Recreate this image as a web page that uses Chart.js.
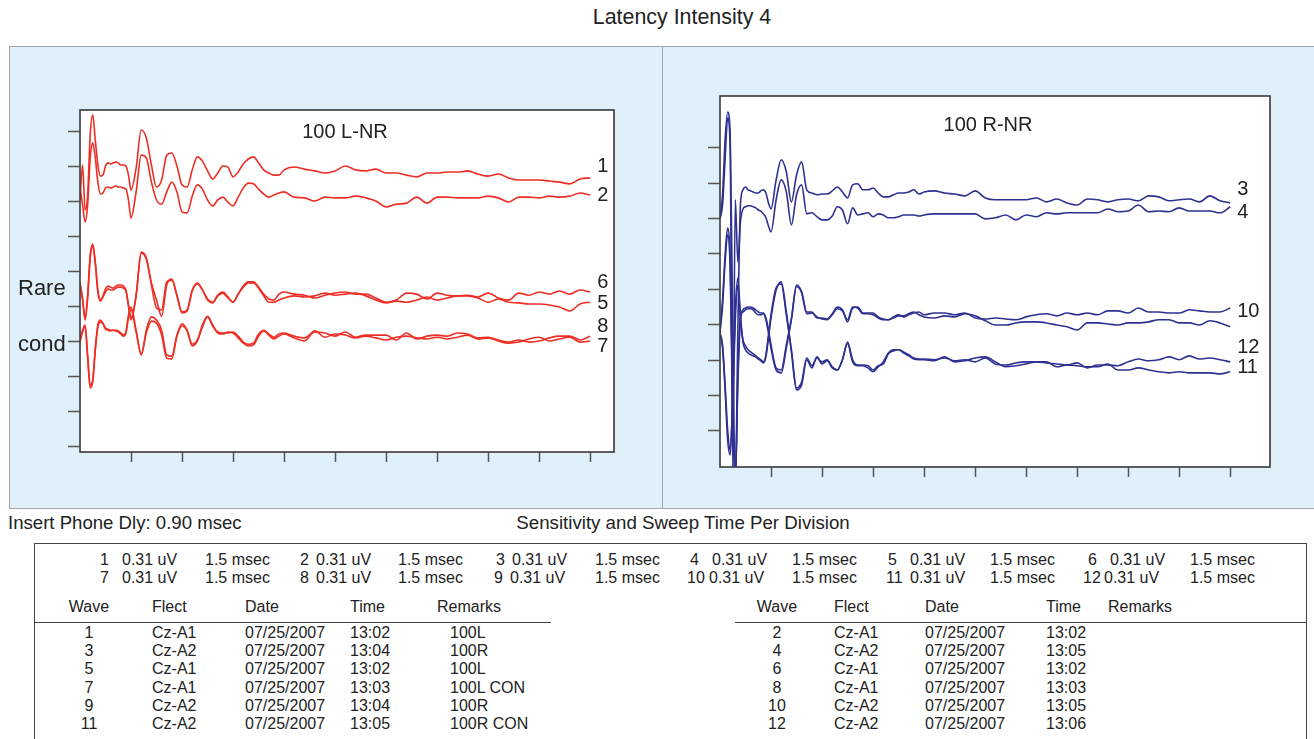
<!DOCTYPE html>
<html>
<head>
<meta charset="utf-8">
<title>Latency Intensity 4</title>
<script src="https://cdn.jsdelivr.net/npm/chart.js@4.4.0/dist/chart.umd.min.js"></script>
<style>
    body { margin: 0; width: 1314px; height: 739px; overflow: hidden; background: #fff;
           position: relative; font-family: "Liberation Sans", Arial, sans-serif; color: #222; }
    .txt { position: absolute; white-space: nowrap; }
    #panel { position: absolute; left: 9px; top: 46px; width: 1310px; height: 463px;
             background: #dff0fa; border: 1px solid #a6a6a6; box-sizing: border-box; }
    #divider { position: absolute; left: 662px; top: 46px; width: 1px; height: 463px; background: #a6a6a6; }
    canvas { position: absolute; }
    #tableBox { position: absolute; left: 34px; top: 543px; width: 1273px; height: 220px;
                border: 1px solid #444; box-sizing: border-box; }
    .rule { position: absolute; height: 1px; background: #444; }
</style>
</head>
<body>
<div id="panel"></div>
<div id="divider"></div>
<canvas id="leftChart" width="662" height="462" style="left:0;top:46px"></canvas>
<canvas id="rightChart" width="651" height="462" style="left:663px;top:46px"></canvas>
<div id="tableBox"></div>
<div class="rule" style="left:34px;top:622px;width:517px"></div>
<div class="rule" style="left:735px;top:622px;width:572px"></div>

<script>
(function () {
    'use strict';

    // sweep time (msec), 1.5 msec per division
    var sweepMs = [0, 0.075, 0.15, 0.225, 0.3, 0.375, 0.45, 0.525, 0.6, 0.675, 0.75, 0.825, 0.9, 0.975, 1.05, 1.125, 1.2, 1.275, 1.35, 1.425, 1.5,
        1.65, 1.8, 1.95, 2.1, 2.25, 2.4, 2.55, 2.7, 2.85, 3.0, 3.15, 3.3, 3.45, 3.6, 3.75, 3.9, 4.05, 4.2, 4.35, 4.5, 4.65, 4.8, 4.95, 5.1, 5.25, 5.4, 5.55, 5.7, 5.85, 6.0,
        6.3, 6.6, 6.9, 7.2, 7.5, 7.8, 8.1, 8.4, 8.7, 9.0, 9.3, 9.6, 9.9, 10.2, 10.5, 10.8, 11.1, 11.4, 11.7, 12.0, 12.3, 12.6, 12.9, 13.2, 13.5, 13.8, 14.1, 14.4, 14.7, 15.0];

    // traces, in divisions (0.31 uV per division)
    var wave1 = [7.03, 8.03, 6.74, 7.17, 8.89, 9.46, 8.74, 8.03, 7.71, 7.74, 8.0, 8.09, 8.06, 8.09, 8.11, 8.09, 8.03, 8.03, 8.0, 7.74, 7.31,
        7.94, 9.03, 8.8, 8.03, 7.4, 7.6, 8.31, 8.37, 8.0, 7.46, 7.4, 7.89, 8.26, 8.14, 7.86, 7.63, 7.8, 8.0, 7.97, 7.69, 7.83, 8.06, 8.2, 8.26, 8.09, 7.89, 7.8, 7.74, 7.74, 7.89,
        7.97, 7.91, 7.86, 7.8, 7.86, 8.0, 7.89, 7.86, 7.91, 7.8, 7.8, 7.74, 7.69, 7.8, 7.8, 7.83, 7.83, 7.86, 7.77, 7.71, 7.77, 7.66, 7.6, 7.6, 7.6, 7.57, 7.54, 7.49, 7.63, 7.66];
    var wave2 = [7.37, 6.89, 6.4, 6.89, 8.23, 8.66, 8.23, 7.54, 7.2, 7.23, 7.37, 7.4, 7.37, 7.4, 7.43, 7.4, 7.4, 7.37, 7.34, 7.03, 6.51,
        7.26, 8.31, 8.23, 7.54, 7.03, 6.91, 7.26, 7.54, 7.26, 6.69, 6.66, 7.14, 7.46, 7.34, 7.03, 6.86, 7.03, 7.11, 6.97, 6.86, 7.11, 7.37, 7.51, 7.49, 7.34, 7.2, 7.11, 7.17, 7.23, 7.26,
        7.11, 7.09, 7.0, 7.11, 7.09, 7.09, 7.14, 7.09, 7.0, 6.83, 6.91, 6.94, 7.11, 6.94, 7.11, 7.11, 7.09, 7.09, 7.09, 7.14, 7.09, 6.97, 7.11, 7.11, 7.09, 7.14, 7.11, 7.14, 7.23, 7.17];
    var wave6 = [4.66, 4.23, 3.66, 4.31, 5.46, 5.77, 5.26, 4.46, 4.17, 4.29, 4.49, 4.57, 4.54, 4.51, 4.57, 4.6, 4.6, 4.57, 4.46, 4.03, 3.66,
        4.31, 5.54, 5.37, 4.6, 3.94, 3.89, 4.69, 4.74, 4.31, 3.83, 3.89, 4.46, 4.66, 4.46, 4.2, 4.11, 4.31, 4.4, 4.26, 4.11, 4.34, 4.57, 4.69, 4.69, 4.54, 4.34, 4.2, 4.17, 4.34, 4.4,
        4.34, 4.31, 4.23, 4.31, 4.37, 4.4, 4.34, 4.34, 4.23, 4.11, 4.17, 4.37, 4.34, 4.2, 4.37, 4.31, 4.29, 4.31, 4.26, 4.37, 4.23, 4.17, 4.37, 4.31, 4.4, 4.34, 4.43, 4.34, 4.46, 4.4];
    var wave5 = [4.63, 4.17, 3.6, 4.23, 5.37, 5.71, 5.2, 4.4, 4.14, 4.26, 4.4, 4.49, 4.46, 4.46, 4.51, 4.54, 4.54, 4.51, 4.43, 4.0, 3.6,
        4.29, 5.51, 5.34, 4.66, 4.17, 3.71, 4.6, 4.77, 4.29, 3.8, 3.86, 4.43, 4.63, 4.46, 4.17, 4.09, 4.29, 4.37, 4.23, 4.11, 4.34, 4.54, 4.66, 4.66, 4.51, 4.29, 4.11, 4.11, 4.17, 4.23,
        4.29, 4.26, 4.29, 4.37, 4.31, 4.34, 4.37, 4.29, 4.17, 4.09, 4.14, 4.11, 4.17, 4.26, 4.17, 4.23, 4.29, 4.29, 4.23, 4.11, 4.2, 4.11, 4.09, 4.06, 4.06, 4.03, 3.97, 3.86, 4.06, 4.11];
    var wave8 = [3.03, 3.31, 3.46, 2.6, 1.74, 1.89, 2.8, 3.46, 3.6, 3.51, 3.37, 3.34, 3.31, 3.31, 3.31, 3.29, 3.23, 3.17, 3.26, 3.74, 3.97,
        3.31, 2.6, 3.31, 3.69, 3.6, 3.31, 2.6, 2.57, 3.17, 3.49, 3.31, 2.91, 3.03, 3.46, 3.71, 3.46, 3.26, 3.23, 3.23, 3.26, 3.14, 2.97, 2.91, 2.94, 3.2, 3.31, 3.2, 3.11, 3.2, 3.23,
        3.14, 3.09, 3.26, 3.23, 3.14, 3.26, 3.11, 3.17, 3.17, 3.17, 3.03, 3.23, 3.06, 3.14, 3.17, 3.14, 3.23, 3.2, 3.09, 3.11, 3.03, 2.97, 3.03, 2.97, 3.0, 3.09, 3.14, 3.14, 3.03, 3.14];
    var wave7 = [2.97, 3.26, 3.43, 2.51, 1.66, 1.83, 2.74, 3.4, 3.54, 3.49, 3.34, 3.31, 3.29, 3.31, 3.29, 3.26, 3.2, 3.14, 3.23, 3.66, 3.91,
        3.26, 2.63, 3.23, 3.57, 3.51, 3.17, 2.51, 2.49, 3.14, 3.43, 3.29, 2.86, 3.0, 3.4, 3.69, 3.43, 3.23, 3.2, 3.26, 3.23, 3.09, 2.94, 2.86, 2.89, 3.14, 3.29, 3.17, 3.06, 3.14, 3.2,
        3.09, 3.0, 3.29, 3.11, 3.2, 3.17, 3.09, 3.14, 3.09, 3.03, 3.11, 3.14, 3.09, 3.06, 3.11, 3.06, 3.11, 3.17, 3.06, 3.09, 3.0, 2.94, 2.97, 3.06, 3.11, 3.0, 3.06, 3.11, 2.97, 3.0];

    var wave3 = [6.02, 6.67, 8.22, 9.01, 8.36, 2.85, -1.67, 2.85, 6.38, 6.81, 6.89, 6.81, 6.78, 6.75, 6.72, 6.72, 6.78, 6.81, 6.72, 6.44, 6.27,
        7.09, 7.66, 7.32, 6.47, 7.23, 7.6, 6.81, 6.72, 6.67, 6.69, 6.69, 6.78, 6.89, 6.75, 6.58, 6.95, 6.98, 6.81, 6.81, 6.86, 6.72, 6.61, 6.61, 6.67, 6.72, 6.72, 6.75, 6.81, 6.69, 6.75,
        6.78, 6.72, 6.69, 6.64, 6.78, 6.58, 6.53, 6.53, 6.53, 6.53, 6.58, 6.47, 6.55, 6.44, 6.38, 6.55, 6.53, 6.47, 6.53, 6.55, 6.5, 6.64, 6.61, 6.5, 6.53, 6.55, 6.47, 6.64, 6.5, 6.44];
    var wave4 = [5.99, 6.38, 7.66, 8.84, 7.94, -1.1, 6.53, 4.77, 5.9, 6.27, 6.33, 6.36, 6.36, 6.33, 6.3, 6.24, 6.21, 6.13, 6.02, 5.79, 5.62,
        6.53, 7.09, 6.75, 5.82, 6.67, 6.95, 6.13, 6.16, 6.05, 5.96, 5.96, 6.07, 6.33, 6.24, 5.85, 6.3, 6.1, 6.13, 6.16, 6.05, 6.13, 6.1, 6.02, 6.02, 6.05, 6.1, 6.1, 6.1, 6.07, 6.1,
        6.13, 6.13, 6.13, 6.13, 6.13, 5.99, 6.02, 6.1, 5.96, 6.1, 6.05, 6.16, 6.13, 6.16, 6.16, 6.16, 6.16, 6.27, 6.19, 6.21, 6.38, 6.19, 6.21, 6.19, 6.3, 6.21, 6.21, 6.21, 6.16, 6.33];
    var wave10 = [2.85, 3.7, 4.97, 5.73, 4.77, 0.88, -1.38, 1.3, 3.14, 3.42, 3.47, 3.5, 3.5, 3.47, 3.42, 3.36, 3.33, 3.33, 3.19, 2.85, 2.43,
        1.78, 1.72, 2.43, 3.19, 4.12, 3.93, 3.36, 3.36, 3.19, 3.19, 3.16, 3.31, 3.5, 3.42, 3.08, 3.47, 3.5, 3.33, 3.33, 3.33, 3.22, 3.16, 3.14, 3.22, 3.28, 3.22, 3.28, 3.33, 3.36, 3.28,
        3.33, 3.33, 3.28, 3.33, 3.19, 3.16, 3.19, 3.16, 3.14, 3.22, 3.28, 3.31, 3.25, 3.33, 3.28, 3.33, 3.28, 3.39, 3.39, 3.33, 3.47, 3.36, 3.36, 3.33, 3.33, 3.42, 3.39, 3.36, 3.36, 3.47];
    var wave9 = [2.77, 3.53, 4.77, 5.54, 4.55, 0.59, -1.53, 1.58, 3.19, 3.36, 3.42, 3.45, 3.45, 3.42, 3.33, 3.28, 3.28, 3.31, 3.14, 2.77, 2.34,
        1.72, 1.64, 2.34, 3.14, 4.07, 3.9, 3.31, 3.33, 3.22, 3.16, 3.14, 3.28, 3.45, 3.39, 3.14, 3.5, 3.47, 3.31, 3.31, 3.28, 3.19, 3.14, 3.14, 3.19, 3.25, 3.25, 3.31, 3.36, 3.28, 3.22,
        3.19, 3.25, 3.22, 3.31, 3.25, 3.11, 2.99, 2.99, 3.05, 3.08, 3.08, 3.05, 2.99, 2.94, 2.85, 3.05, 3.05, 3.02, 2.99, 3.05, 3.05, 3.08, 3.14, 3.14, 3.05, 3.05, 2.99, 3.11, 3.05, 2.94];
    var wave12 = [2.77, 2.43, 1.3, 0.03, -0.54, 0.88, 3.14, 4.12, 3.14, 2.57, 2.4, 2.29, 2.23, 2.18, 2.12, 2.06, 2.01, 1.95, 2.15, 2.71, 3.28,
        4.04, 4.15, 3.28, 2.29, 1.21, 1.38, 2.06, 1.84, 2.06, 1.95, 2.01, 1.81, 1.72, 2.01, 2.51, 2.01, 1.86, 1.86, 1.84, 1.72, 1.84, 1.89, 2.18, 2.26, 2.29, 2.23, 2.15, 2.06, 2.03, 2.03,
        2.01, 2.06, 1.98, 2.01, 1.95, 2.06, 1.89, 1.86, 1.92, 1.95, 1.95, 1.92, 1.89, 1.86, 1.92, 1.78, 1.86, 1.86, 1.84, 1.95, 2.03, 1.98, 2.01, 2.09, 2.01, 2.12, 2.03, 2.06, 2.01, 1.95];
    var wave11 = [2.74, 2.34, 1.16, -0.25, -0.68, 1.02, 3.42, 4.32, 3.28, 2.51, 2.29, 2.2, 2.15, 2.12, 2.09, 2.03, 1.98, 1.92, 2.09, 2.63, 3.19,
        3.98, 4.21, 3.36, 2.23, 1.16, 1.3, 2.01, 1.78, 2.09, 1.89, 1.98, 1.78, 1.72, 2.01, 2.46, 1.95, 1.84, 1.84, 1.78, 1.67, 1.81, 1.95, 2.2, 2.29, 2.29, 2.2, 2.12, 2.03, 2.01, 2.01,
        1.98, 2.09, 1.95, 1.98, 2.06, 2.09, 1.95, 1.81, 1.84, 1.89, 1.95, 1.95, 1.81, 1.86, 1.84, 1.81, 1.81, 1.89, 1.72, 1.72, 1.78, 1.72, 1.67, 1.64, 1.67, 1.64, 1.64, 1.64, 1.61, 1.67];

    // table text
    var waveNums = [1, 2, 3, 4, 5, 6, 7, 8, 9, 10, 11, 12];
    var waveSens = ['0.31 uV', '0.31 uV', '0.31 uV', '0.31 uV', '0.31 uV', '0.31 uV', '0.31 uV', '0.31 uV', '0.31 uV', '0.31 uV', '0.31 uV', '0.31 uV'];
    var waveSweep = ['1.5 msec', '1.5 msec', '1.5 msec', '1.5 msec', '1.5 msec', '1.5 msec', '1.5 msec', '1.5 msec', '1.5 msec', '1.5 msec', '1.5 msec', '1.5 msec'];
    var waveFlect = ['Cz-A1', 'Cz-A1', 'Cz-A2', 'Cz-A2', 'Cz-A1', 'Cz-A1', 'Cz-A1', 'Cz-A1', 'Cz-A2', 'Cz-A2', 'Cz-A2', 'Cz-A2'];
    var waveDate = ['07/25/2007', '07/25/2007', '07/25/2007', '07/25/2007', '07/25/2007', '07/25/2007', '07/25/2007', '07/25/2007', '07/25/2007', '07/25/2007', '07/25/2007', '07/25/2007'];
    var waveTime = ['13:02', '13:02', '13:04', '13:05', '13:02', '13:02', '13:03', '13:03', '13:04', '13:05', '13:05', '13:06'];
    var waveRemark = ['100L', '', '100R', '', '100L', '', '100L CON', '', '100R', '', '100R CON', ''];

    var RED = '#ee2e24';
    var BLUE = '#2e3192';
    var FONT = '"Liberation Sans", Arial, sans-serif';
    var TABLE_SIZE = 16;

    function putText(txt, x, y, size, align) {
        var el = document.createElement('div');
        el.className = 'txt';
        el.textContent = txt;
        el.style.left = x + 'px';
        el.style.top = (y - size / 2) + 'px';
        el.style.fontSize = size + 'px';
        el.style.lineHeight = size + 'px';
        if (align === 'center') el.style.transform = 'translateX(-50%)';
        if (align === 'right') el.style.transform = 'translateX(-100%)';
        document.body.appendChild(el);
    }

    function points(arr) {
        return sweepMs.map(function (t, i) { return { x: t, y: arr[i] }; });
    }

    function trace(label, arr, color, shift) {
        return {
            label: label,
            data: points(arr),
            borderColor: color,
            borderWidth: 1.6,
            pointRadius: 0,
            fill: false,
            cubicInterpolationMode: 'monotone',
            endShift: shift
        };
    }

    // white plot box + frame
    var boxPlugin = {
        id: 'box',
        beforeDraw: function (chart) {
            var a = chart.chartArea, ctx = chart.ctx;
            ctx.save();
            ctx.fillStyle = '#fff';
            ctx.fillRect(a.left, a.top, a.right - a.left, a.bottom - a.top);
            ctx.restore();
        },
        afterDraw: function (chart) {
            var a = chart.chartArea, ctx = chart.ctx;
            ctx.save();
            ctx.strokeStyle = '#444';
            ctx.lineWidth = 1.7;
            ctx.strokeRect(a.left, a.top, a.right - a.left, a.bottom - a.top);
            ctx.restore();
        }
    };

    // wave numbers at the end of each trace
    var endLabels = {
        id: 'endLabels',
        afterDatasetsDraw: function (chart) {
            var ctx = chart.ctx;
            ctx.save();
            ctx.font = '20px ' + FONT;
            ctx.fillStyle = '#222';
            ctx.textBaseline = 'middle';
            chart.data.datasets.forEach(function (ds, i) {
                if (ds.endShift === null) return;
                var pts = chart.getDatasetMeta(i).data;
                var last = pts[pts.length - 1];
                ctx.fillText(ds.label, last.x + 7, last.y + ds.endShift);
            });
            ctx.restore();
        }
    };

    function makeChart(id, datasets, xMax, yMin, yMax, yTop, pad) {
        var tickStyle = { drawOnChartArea: false, drawTicks: true, color: '#555', tickColor: '#555', tickWidth: 1.5 };
        return new Chart(document.getElementById(id), {
            type: 'line',
            data: { datasets: datasets },
            options: {
                responsive: false,
                animation: false,
                devicePixelRatio: 1,
                layout: { padding: pad },
                plugins: { legend: { display: false }, tooltip: { enabled: false } },
                scales: {
                    x: {
                        type: 'linear', min: 0, max: xMax,
                        ticks: { display: false, stepSize: 1.5, includeBounds: false },
                        grid: Object.assign({ tickLength: 10 }, tickStyle),
                        border: { display: false },
                        afterBuildTicks: function (s) { s.ticks = s.ticks.filter(function (t) { return t.value > 0.01; }); }
                    },
                    y: {
                        type: 'linear', min: yMin, max: yMax,
                        ticks: { display: false, stepSize: 1, includeBounds: false },
                        grid: Object.assign({ tickLength: 12 }, tickStyle),
                        border: { display: false },
                        afterBuildTicks: function (s) { s.ticks = s.ticks.filter(function (t) { return t.value > -0.01 && t.value < yTop + 0.01; }); }
                    }
                }
            },
            plugins: [boxPlugin, endLabels]
        });
    }

    makeChart('leftChart', [
        trace('1', wave1, RED, -11),
        trace('2', wave2, RED, 0),
        trace('6', wave6, RED, -10),
        trace('5', wave5, RED, 1),
        trace('8', wave8, RED, -10),
        trace('7', wave7, RED, 5)
    ], 15.7, -0.17, 9.6, 9, { left: 68, top: 64, right: 48, bottom: 46 });

    makeChart('rightChart', [
        trace('3', wave3, BLUE, -13),
        trace('4', wave4, BLUE, 6),
        trace('10', wave10, BLUE, 3),
        trace('9', wave9, BLUE, null),
        trace('12', wave12, BLUE, -14),
        trace('11', wave11, BLUE, -4)
    ], 16.17, -1.02, 9.46, 8, { left: 45, top: 50, right: 44, bottom: 31 });

    // headings
    putText('Latency Intensity 4', 682, 18, 21.4, 'center');
    putText('100 L-NR', 345, 131, 20, 'center');
    putText('100 R-NR', 988, 124, 20, 'center');
    putText('Rare', 18, 288, 22);
    putText('cond', 18, 344, 22);
    putText('Insert Phone Dly: 0.90 msec', 8, 523, 18.6);
    putText('Sensitivity and Sweep Time Per Division', 683, 523, 18.7, 'center');

    // sensitivity / sweep rows
    var numX = [[109, 300, 496, 690, 888, 1088], [109, 300, 494, 687, 886, 1083]];
    var ampX = [[122, 316, 512, 712, 910, 1110], [122, 316, 510, 709, 910, 1104]];
    var sweepX = [205, 398, 595, 792, 990, 1190];
    var sensY = [560, 578];
    for (var r = 0; r < 2; r++) {
        for (var c = 0; c < 6; c++) {
            var w = r * 6 + c;
            putText(String(waveNums[w]), numX[r][c], sensY[r], TABLE_SIZE, c === 0 ? 'right' : null);
            putText(waveSens[w], ampX[r][c], sensY[r], TABLE_SIZE);
            putText(waveSweep[w], sweepX[c], sensY[r], TABLE_SIZE);
        }
    }

    // wave list, odd waves left, even waves right
    var cols = [
        { wave: 89, flect: 152, date: 245, time: 350, remark: 450, remarkHead: 437 },
        { wave: 777, flect: 834, date: 925, time: 1046, remark: 1108, remarkHead: 1108 }
    ];
    cols.forEach(function (col, side) {
        putText('Wave', col.wave, 607, TABLE_SIZE, 'center');
        putText('Flect', col.flect, 607, TABLE_SIZE);
        putText('Date', col.date, 607, TABLE_SIZE);
        putText('Time', col.time, 607, TABLE_SIZE);
        putText('Remarks', col.remarkHead, 607, TABLE_SIZE);
        for (var k = 0; k < 6; k++) {
            var w = k * 2 + side;
            var y = 633 + k * 18.2;
            putText(String(waveNums[w]), col.wave, y, TABLE_SIZE, 'center');
            putText(waveFlect[w], col.flect, y, TABLE_SIZE);
            putText(waveDate[w], col.date, y, TABLE_SIZE);
            putText(waveTime[w], col.time, y, TABLE_SIZE);
            if (waveRemark[w]) putText(waveRemark[w], col.remark, y, TABLE_SIZE);
        }
    });
})();
</script>
</body>
</html>
